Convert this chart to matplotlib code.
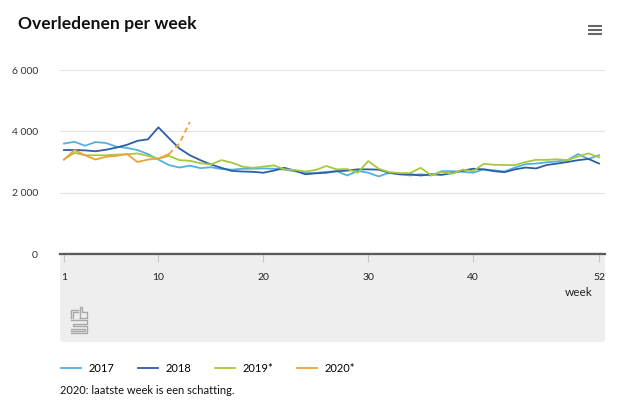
import matplotlib
matplotlib.use("Agg")
import matplotlib.pyplot as plt
from matplotlib.patches import FancyBboxPatch
from matplotlib.lines import Line2D

# weekly deaths
weeks = list(range(1, 53))
deaths_2017 = [3600, 3660, 3530, 3650, 3620, 3500, 3460, 3390, 3260, 3080,
               2900, 2820, 2880, 2800, 2830, 2770, 2750, 2780, 2780, 2790,
               2780, 2750, 2700, 2640, 2640, 2680, 2700, 2560, 2710, 2650,
               2530, 2650, 2600, 2560, 2600, 2560, 2700, 2700, 2680, 2650,
               2760, 2730, 2690, 2820, 2930, 2950, 2990, 3020, 3060, 3260,
               3100, 3220]
deaths_2018 = [3390, 3390, 3380, 3350, 3400, 3470, 3560, 3690, 3740, 4130,
               3780, 3440, 3220, 3060, 2920, 2810, 2710, 2690, 2680, 2650,
               2720, 2810, 2720, 2600, 2630, 2650, 2700, 2720, 2760, 2760,
               2750, 2650, 2600, 2600, 2560, 2600, 2580, 2640, 2720, 2780,
               2760, 2700, 2670, 2760, 2820, 2790, 2900, 2950, 3000, 3060,
               3100, 2950]
deaths_2019 = [3080, 3300, 3220, 3220, 3220, 3240, 3250, 3280, 3200, 3110,
               3200, 3060, 3040, 2960, 2920, 3060, 2980, 2850, 2810, 2850,
               2890, 2760, 2740, 2690, 2740, 2870, 2760, 2770, 2650, 3030,
               2780, 2670, 2640, 2640, 2810, 2570, 2670, 2620, 2750, 2700,
               2940, 2910, 2900, 2900, 3000, 3070, 3070, 3090, 3060, 3180,
               3280, 3150]
deaths_2020 = [3080, 3390, 3220, 3080, 3170, 3200, 3260, 3000, 3080, 3110,
               3260, 3600, 4310]
n_solid_2020 = 11  # last weeks are an estimate -> dashed

yticks = [0, 2000, 4000, 6000]
ytick_labels = ["0", "2 000", "4 000", "6 000"]
xticks = [1, 10, 20, 30, 40, 52]

colors = {"2017": "#52b2de", "2018": "#2c5ea8", "2019*": "#aac83c", "2020*": "#eea23a"}

plt.rcParams["font.family"] = ["Lato", "DejaVu Sans"]

W, H = 630, 403
fig = plt.figure(figsize=(W / 100, H / 100), dpi=100)


def fx(px):
    return px / W


def fy(py):
    return 1 - py / H


# grey band under the axis
band = FancyBboxPatch((fx(60), fy(342)), fx(605) - fx(60), fy(252) - fy(342),
                      boxstyle="round,pad=0,rounding_size=0.008",
                      transform=fig.transFigure, facecolor="#eeeeee",
                      edgecolor="none", zorder=0)
fig.add_artist(band)

ax = fig.add_axes([fx(60), fy(254), fx(605) - fx(60), fy(70) - fy(254)])
ax.patch.set_alpha(0)
ax.set_xlim(1 - 4 / 10.49, 52 + 6 / 10.49)
ax.set_ylim(0, 6000)

for v in yticks[1:]:
    ax.axhline(v, color="#e3e3e3", lw=0.8, zorder=1)

lw = 1.3
ax.plot(weeks, deaths_2017, color=colors["2017"], lw=lw, zorder=3)
ax.plot(weeks, deaths_2018, color=colors["2018"], lw=lw, zorder=3)
ax.plot(weeks, deaths_2019, color=colors["2019*"], lw=lw, zorder=3)
w20 = weeks[:len(deaths_2020)]
ax.plot(w20[:n_solid_2020], deaths_2020[:n_solid_2020], color=colors["2020*"], lw=lw, zorder=4)
ax.plot(w20[n_solid_2020 - 1:], deaths_2020[n_solid_2020 - 1:], color=colors["2020*"],
        lw=lw, ls=(0, (3, 2)), zorder=4)

for s in ["top", "right", "left"]:
    ax.spines[s].set_visible(False)
ax.spines["bottom"].set_color("#5a5a5a")
ax.spines["bottom"].set_linewidth(1.6)
ax.spines["bottom"].set_zorder(5)

ax.set_yticks(yticks)
ax.set_yticklabels(ytick_labels)
ax.tick_params(axis="y", length=0, pad=16, labelsize=7.5, labelcolor="#333333")
ax.set_xticks(xticks)
ax.set_xticklabels([str(x) for x in xticks])
ax.tick_params(axis="x", direction="out", length=6, width=0.8, color="#c8c8c8",
               pad=8, labelsize=7.5, labelcolor="#222222")

fig.text(fx(593), fy(292), "week", ha="right", va="center", fontsize=8.5, color="#222222")

# title and menu icon
fig.text(fx(18), fy(24), "Overledenen per week", ha="left", va="center",
         fontsize=12.6, fontweight="bold", color="#111111")
for yy in [26, 30, 34]:
    fig.add_artist(Line2D([fx(588), fx(602)], [fy(yy), fy(yy)], transform=fig.transFigure,
                          color="#666666", lw=1.5, solid_capstyle="butt"))

# simplified cbs logo
logo = [[(71, 318), (71, 310), (78, 310)], [(73, 318), (73, 312), (78, 312)],
        [(80, 318), (80, 307), (82, 307), (82, 312), (87, 312), (87, 318), (80, 318)],
        [(71, 320), (87, 320), (87, 324), (73, 324), (73, 326), (87, 326), (87, 333), (71, 333)],
        [(71, 329), (85, 329), (85, 331), (71, 331)]]
for pts in logo:
    xs = [fx(p[0]) for p in pts]
    ys = [fy(p[1]) for p in pts]
    fig.add_artist(Line2D(xs, ys, transform=fig.transFigure, color="#a8a8a8", lw=1.0))

handles = [Line2D([], [], color=c, lw=1.3) for c in colors.values()]
fig.legend(handles, list(colors.keys()), loc="center left",
           bbox_to_anchor=(fx(51), fy(368)), ncol=4, frameon=False,
           fontsize=8, handlelength=1.8, handletextpad=0.7, columnspacing=2.1)

fig.text(fx(60), fy(391), "2020: laatste week is een schatting.", ha="left", va="center",
         fontsize=8, color="#111111")

fig.savefig("out.png", dpi=100)
